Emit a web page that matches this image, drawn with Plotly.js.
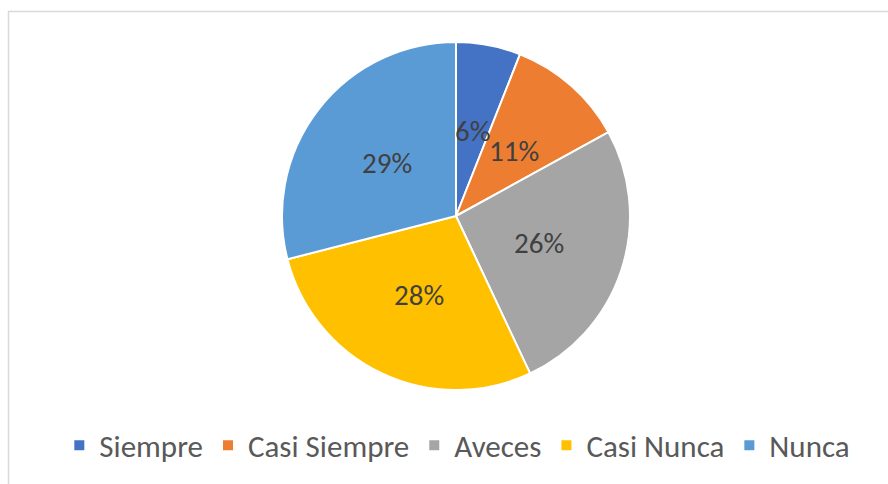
<!DOCTYPE html>
<html><head><meta charset="utf-8">
<script src="https://cdn.plot.ly/plotly-3.0.1.min.js"></script>
<style>html,body{margin:0;padding:0;background:#fff;}#chart{width:888px;height:484px;}</style>
</head><body><div id="chart"></div>
<script>
const categories = ["Siempre", "Casi Siempre", "Aveces", "Casi Nunca", "Nunca"];
const values = [6, 11, 26, 28, 29];
const colors = ["#4472C4", "#ED7D31", "#A5A5A5", "#FFC000", "#5B9BD5"];

const W = 888, H = 484;
const cx = 456, cy = 216, R = 174;
const T = 42, B = 94, PH = H - T - B;
const FONT = "Carlito, Lato, 'Open Sans', sans-serif";

const total = values.reduce((a, b) => a + b, 0);
const annotations = [];
let cum = 0;
values.forEach((v) => {
  const mid = (cum + v / 2) / total * 2 * Math.PI;
  cum += v;
  const px = cx + 0.5 * R * Math.sin(mid);
  const py = cy - 0.5 * R * Math.cos(mid);
  annotations.push({
    xref: "paper", yref: "paper",
    x: px / W, y: (H - B - py) / PH,
    text: Math.round(v / total * 100) + "%",
    showarrow: false,
    font: {family: FONT, size: 29, color: "#404040"},
    xanchor: "center", yanchor: "middle"
  });
});

const data = [{
  type: "pie",
  labels: categories,
  values: values,
  marker: {colors: colors, line: {color: "#ffffff", width: 2}},
  sort: false,
  direction: "clockwise",
  rotation: 0,
  textinfo: "none",
  hoverinfo: "label+percent",
  domain: {x: [24 / W, 1], y: [0, 1]}
}];

const layout = {
  width: W, height: H,
  margin: {l: 0, r: 0, t: T, b: B, pad: 0},
  paper_bgcolor: "#ffffff",
  showlegend: true,
  legend: {
    orientation: "h", x: 0.515, xanchor: "center", y: -0.16, yanchor: "middle",
    font: {family: FONT, size: 31, color: "#595959"},
    itemwidth: 30, tracegroupgap: 0
  },
  annotations: annotations,
  shapes: [{
    type: "rect", xref: "paper", yref: "paper",
    x0: 8.5 / W, x1: 1.05, y0: -0.5, y1: (H - B - 11.5) / PH,
    line: {color: "#D9D9D9", width: 1.5}, fillcolor: "rgba(0,0,0,0)", layer: "below"
  }]
};

Plotly.newPlot("chart", data, layout, {displayModeBar: false, staticPlot: true});
</script></body></html>
